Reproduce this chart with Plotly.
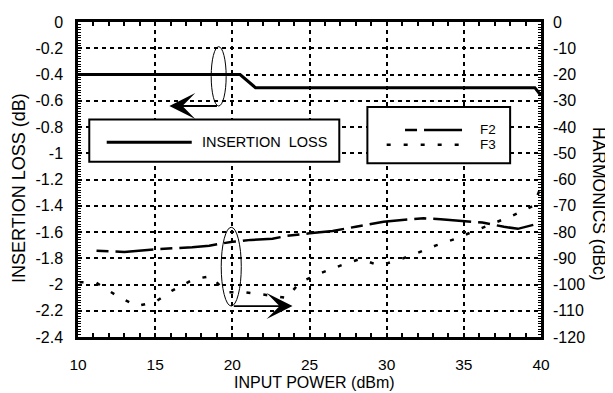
import plotly.graph_objects as go

# ---- data ----
il_x = [10, 20.5, 21.5, 39.6, 40]
il_y = [-0.4, -0.4, -0.5, -0.5, -0.56]

f2_x = [11.2, 12.0, 13.0, 15.0, 16.3, 17.4, 18.5, 20.0, 20.5, 21.2, 22.6, 23.5, 25.0,
        26.5, 28.0, 29.8, 31.0, 32.4, 33.5, 34.9, 36.2, 37.6, 38.5, 39.5]
f2_y = [-87.1, -87.2, -87.6, -86.6, -86.2, -85.8, -85.2, -83.7, -83.5, -83.0, -82.6, -81.5, -80.5,
        -79.6, -78.0, -76.1, -75.4, -74.8, -75.1, -75.7, -76.4, -78.0, -78.8, -77.3]

f3_x = [10.1, 11.2, 12.6, 13.8, 15.0, 16.1, 17.5, 18.6, 19.6, 20.9, 22.2, 23.5, 24.4, 25.8,
        27.0, 28.3, 29.5, 30.7, 32.0, 33.2, 34.4, 35.6, 36.8, 38.1, 39.5, 40.0]
f3_y = [-99.1, -99.4, -104.6, -108.2, -106.7, -102.3, -98.0, -96.8, -102.9, -103.0, -104.0, -105.1,
        -99.1, -95.5, -92.8, -90.2, -92.8, -90.8, -88.0, -85.1, -82.7, -79.9, -77.0, -73.9, -70.0, -62.7]

x_ticks = [10, 15, 20, 25, 30, 35, 40]
left_ticks = [0, -0.2, -0.4, -0.6, -0.8, -1, -1.2, -1.4, -1.6, -1.8, -2, -2.2, -2.4]
right_ticks = [0, -10, -20, -30, -40, -50, -60, -70, -80, -90, -100, -110, -120]

x_title = "INPUT POWER (dBm)"
y_title = "INSERTION LOSS (dB)"
y2_title = "HARMONICS (dBc)"

FONT = "Liberation Sans, Arial, sans-serif"
F2_DASH = "12px,7px,38px,7px"
F3_DASH = "4px,13px"

fig = go.Figure()
fig.add_trace(go.Scatter(x=il_x, y=il_y, mode="lines", name="INSERTION LOSS",
                         line=dict(color="black", width=3), yaxis="y"))
fig.add_trace(go.Scatter(x=f2_x, y=f2_y, mode="lines", name="F2",
                         line=dict(color="black", width=2.5, dash=F2_DASH), yaxis="y2"))
fig.add_trace(go.Scatter(x=f3_x, y=f3_y, mode="lines", name="F3",
                         line=dict(color="black", width=2.5, dash=F3_DASH), yaxis="y2"))

shapes = []
# legend box 1
shapes.append(dict(type="rect", xref="x", yref="y", x0=10.73, x1=26.93, y0=-0.743, y1=-1.065,
                   line=dict(color="black", width=2), fillcolor="white", layer="above"))
shapes.append(dict(type="line", xref="x", yref="y", x0=11.86, x1=17.37, y0=-0.917, y1=-0.917,
                   line=dict(color="black", width=3), layer="above"))
# legend box 2
shapes.append(dict(type="rect", xref="x", yref="y", x0=28.75, x1=38.0, y0=-0.647, y1=-1.077,
                   line=dict(color="black", width=2), fillcolor="white", layer="above"))
shapes.append(dict(type="line", xref="x", yref="y", x0=31.19, x1=35.15, y0=-0.822, y1=-0.822,
                   line=dict(color="black", width=2.5, dash=F2_DASH), layer="above"))
shapes.append(dict(type="line", xref="x", yref="y", x0=30.0, x1=35.18, y0=-0.935, y1=-0.935,
                   line=dict(color="black", width=2.5, dash=F3_DASH), layer="above"))
# ellipses
shapes.append(dict(type="circle", xref="x", yref="y", x0=18.63, x1=19.6, y0=-0.188, y1=-0.64,
                   line=dict(color="black", width=1)))
shapes.append(dict(type="circle", xref="x", yref="y", x0=19.28, x1=20.58, y0=-1.564, y1=-2.164,
                   line=dict(color="black", width=1)))

annotations = [
    dict(x=17.9, y=-0.917, xref="x", yref="y", text="INSERTION  LOSS",
         showarrow=False, xanchor="left", font=dict(family=FONT, size=14.5, color="black")),
    dict(x=35.9, y=-0.822, xref="x", yref="y", text="F2", showarrow=False, xanchor="left",
         font=dict(family=FONT, size=13.5, color="black")),
    dict(x=35.9, y=-0.935, xref="x", yref="y", text="F3", showarrow=False, xanchor="left",
         font=dict(family=FONT, size=13.5, color="black")),
    dict(x=15.92, y=-0.64, ax=19.1, ay=-0.64, xref="x", yref="y", axref="x", ayref="y",
         text="", showarrow=True, arrowhead=3, arrowsize=2.4, arrowwidth=1.8, arrowcolor="black"),
    dict(x=23.9, y=-2.164, ax=20.0, ay=-2.164, xref="x", yref="y", axref="x", ayref="y",
         text="", showarrow=True, arrowhead=3, arrowsize=2.4, arrowwidth=1.8, arrowcolor="black"),
    # axis titles
    dict(x=0.5108, y=-0.1456, xref="paper", yref="paper", text=x_title, showarrow=False,
         xanchor="center", yanchor="middle", font=dict(family=FONT, size=16, color="black")),
    dict(x=-0.1274, y=0.473, xref="paper", yref="paper", text=y_title, showarrow=False,
         textangle=-90, xanchor="center", yanchor="middle",
         font=dict(family=FONT, size=18, color="black")),
    dict(x=1.125, y=0.4225, xref="paper", yref="paper", text=y2_title, showarrow=False,
         textangle=90, xanchor="center", yanchor="middle",
         font=dict(family=FONT, size=17.5, color="black")),
]

fig.update_layout(
    width=605, height=385,
    margin=dict(l=70, r=72, t=13.5, b=55.5),
    paper_bgcolor="white", plot_bgcolor="white",
    showlegend=False,
    font=dict(family=FONT, size=16, color="black"),
    shapes=shapes, annotations=annotations,
    xaxis=dict(range=[10, 40], tickvals=x_ticks, ticktext=[str(v) for v in x_ticks],
               showline=True, linecolor="black", linewidth=2.5, mirror="allticks",
               ticks="inside", ticklen=4, tickcolor="black", tickwidth=1.5,
               minor=dict(dtick=1, ticks="inside", ticklen=4, tickcolor="black", tickwidth=1.5),
               showgrid=True, gridcolor="black", gridwidth=1.5, griddash="4px,4px",
               zeroline=False, ticklabelstandoff=12, automargin=False,
               tickfont=dict(size=15.5)),
    yaxis=dict(range=[-2.4, 0], tickvals=left_ticks, ticktext=[f"{v:g}" for v in left_ticks],
               showline=True, linecolor="black", linewidth=2.5, mirror="allticks",
               ticks="inside", ticklen=3, tickcolor="black", tickwidth=1,
               minor=dict(dtick=0.02, ticks="inside", ticklen=3, tickcolor="black", tickwidth=1),
               showgrid=True, gridcolor="black", gridwidth=1.5, griddash="4px,4px",
               zeroline=False, ticklabelstandoff=9, automargin=False),
    yaxis2=dict(range=[-120, 0], tickvals=right_ticks, ticktext=[str(v) for v in right_ticks],
                overlaying="y", side="right", showline=False, showgrid=False, zeroline=False,
                ticks="", ticklabelstandoff=11, automargin=False),
)

fig.write_html("out.html")
